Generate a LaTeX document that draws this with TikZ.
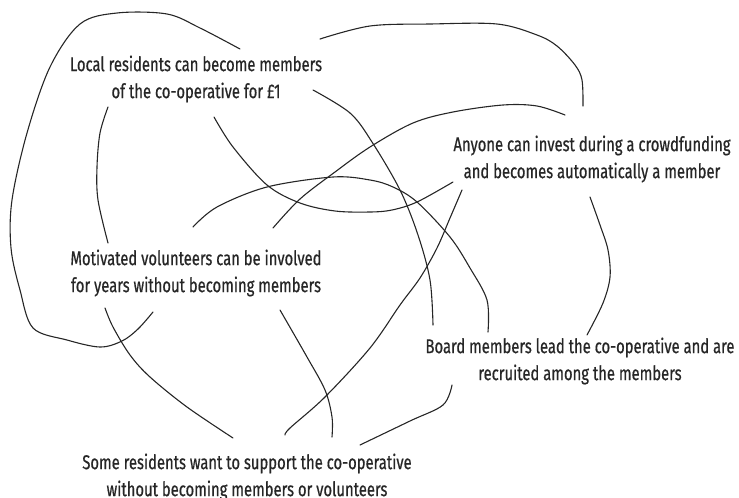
\documentclass[tikz,border=0pt]{standalone}
\usepackage{fontspec}
\setmainfont[FakeStretch=0.74,FakeBold=0.6]{Fira Sans}
\begin{document}
\begin{tikzpicture}[x=1pt,y=-1pt,
  lbl/.style={align=center,inner sep=0pt,text=black!85,font=\fontsize{20}{27}\selectfont},
  link/.style={draw=black!85,line width=1.1pt,line cap=round,smooth,tension=0.55}]
\useasboundingbox (0,0) rectangle (739,498);
\node[lbl] (n1) at (196,79) {Local residents can become members\\of the co-operative for £1};
\node[lbl] (n2) at (592,159) {Anyone can invest during a crowdfunding\\and becomes automatically a member};
\node[lbl] (n3) at (196,273) {Motivated volunteers can be involved\\for years without becoming members};
\node[lbl] (n4) at (580,361) {Board members lead the co-operative and are\\recruited among the members};
\node[lbl] (n5) at (247,477) {Some residents want to support the co-operative\\without becoming members or volunteers};
% endpoints
\coordinate (a1) at (240,49);  \coordinate (a3) at (153,312);
\coordinate (b1) at (108,107); \coordinate (b3) at (108,243);
\coordinate (c1) at (214,117); \coordinate (c2) at (453,182);
\coordinate (d1) at (313,90);  \coordinate (d4) at (433,325);
\coordinate (e3) at (273,228); \coordinate (e2) at (565,115);
\coordinate (f3) at (193,227); \coordinate (f4) at (488,332);
\coordinate (g1) at (320,39);  \coordinate (g2) at (583,106);
\coordinate (h2) at (462,190); \coordinate (h5) at (285,435);
\coordinate (i2) at (590,197); \coordinate (i4) at (587,335);
\coordinate (j3) at (105,308); \coordinate (j5) at (233,438);
\coordinate (k3) at (280,310); \coordinate (k5) at (332,437);
\coordinate (l4) at (452,385); \coordinate (l5) at (360,445);
% connectors
\draw[link] plot coordinates {(a1) (200,28) (167,14) (117,13) (80,24) (50,67) (27,133) (12,200) (11,248) (20,290) (33,328) (67,340) (100,347) (122,341) (138,329) (a3)};
\draw[link] plot coordinates {(b1) (100,133) (97,167) (98,200) (b3)};
\draw[link] plot coordinates {(c1) (233,147) (267,185) (300,203) (335,211) (370,212) (392,210) (417,202) (c2)};
\draw[link] plot coordinates {(d1) (350,113) (372,142) (400,190) (418,235) (430,280) (d4)};
\draw[link] plot coordinates {(e3) (300,199) (335,172) (370,147) (413,123) (453,112) (503,105) (537,106) (e2)};
\draw[link] plot coordinates {(f3) (217,207) (267,187) (333,177) (370,180) (393,187) (417,202) (450,237) (470,268) (487,300) (f4)};
\draw[link] plot coordinates {(g1) (370,26) (430,24) (497,24) (537,35) (557,46) (575,65) (582,80) (g2)};
\draw[link] plot coordinates {(h2) (450,218) (437,248) (420,278) (400,305) (370,348) (325,397) (290,428) (h5)};
\draw[link] plot coordinates {(i2) (600,225) (608,250) (610,277) (603,303) (i4)};
\draw[link] plot coordinates {(j3) (113,327) (130,355) (150,377) (187,407) (j5)};
\draw[link] plot coordinates {(k3) (307,357) (325,390) (332,417) (k5)};
\draw[link] plot coordinates {(l4) (443,405) (410,421) (l5)};
\end{tikzpicture}
\end{document}
